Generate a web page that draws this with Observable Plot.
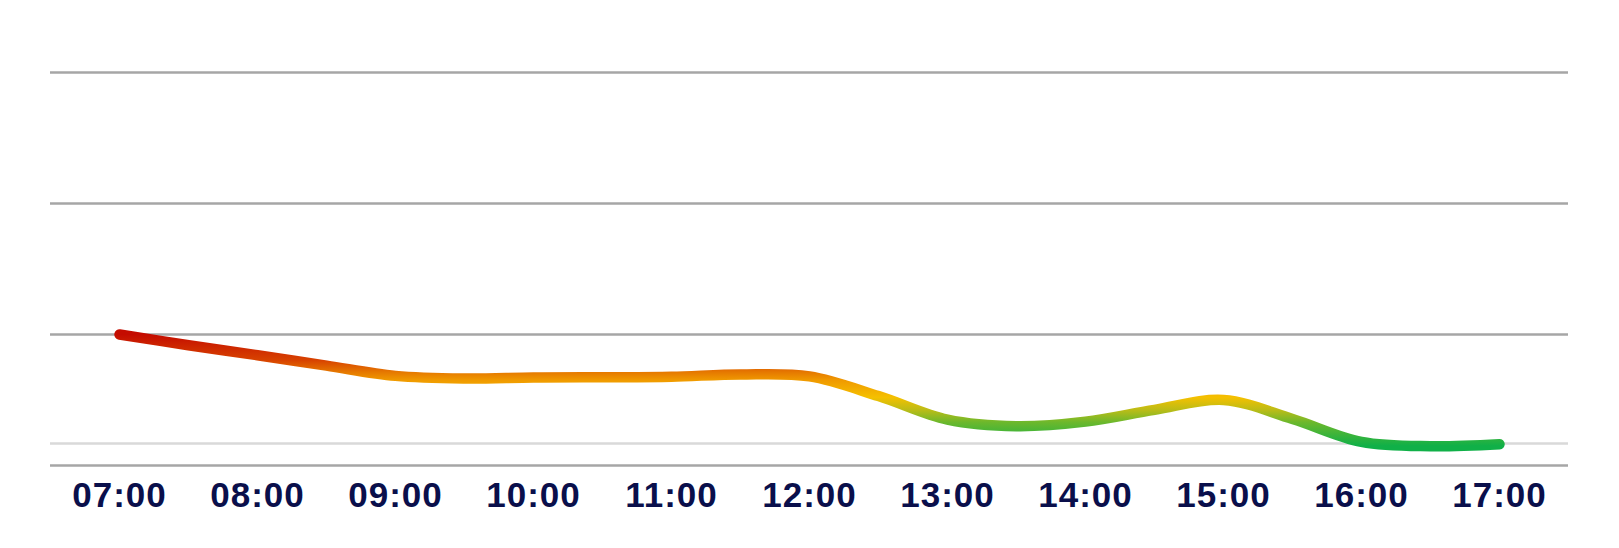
<!DOCTYPE html>
<html>
<head>
<meta charset="utf-8">
<script src="https://cdn.jsdelivr.net/npm/d3@7"></script>
<script src="https://cdn.jsdelivr.net/npm/@observablehq/plot@0.6"></script>
<style>
  html, body { margin: 0; padding: 0; background: #ffffff; }
  #chart svg { display: block; }
  #chart [aria-label="x-axis tick label"] text { font-weight: 700; letter-spacing: 1px; }
</style>
</head>
<body>
<div id="chart"></div>
<script>
// Sample times (half-hourly) and values
const times = ["07:00","07:30","08:00","08:30","09:00","09:30","10:00","10:30","11:00","11:30","12:00","12:30","13:00","13:30","14:00","14:30","15:00","15:30","16:00","16:30","17:00"];
const values = [10.0, 9.18, 8.42, 7.62, 6.84, 6.64, 6.72, 6.74, 6.78, 6.95, 6.8, 5.3, 3.5, 3.0, 3.35, 4.25, 5.0, 3.55, 1.8, 1.47, 1.63];

// Axis tick labels
const tickLabels = ["07:00","08:00","09:00","10:00","11:00","12:00","13:00","14:00","15:00","16:00","17:00"];

// Horizontal grid values and reference line
const gridValues = [10, 20, 30];
const baseValue = [0];
const referenceValue = [1.68];

// Colour ramp (by value, top = red, bottom = green)
const rampValues = [10, 8, 7.1, 6.5, 5.2, 4.2, 3.3, 1.5];
const rampColors = ["#c40c00", "#d84400", "#e67a00", "#f09a00", "#f5c000", "#b8bc18", "#6cb82c", "#10b048"];

const toHours = s => { const [h, m] = s.split(":").map(Number); return h + m / 60; };
const data = times.map((t, i) => ({ t: toHours(t), v: values[i] }));
const tickHours = tickLabels.map(toHours);

const W = 1619, H = 548;
const plot = Plot.plot({
  width: W,
  height: H,
  marginLeft: 50,
  marginRight: 51,
  marginTop: 72,
  marginBottom: 83,
  style: { fontFamily: "'Liberation Sans', Arial, sans-serif", background: "#ffffff" },
  x: { type: "linear", domain: [6.5, 17.5], axis: null },
  y: { domain: [0, 30], axis: null },
  marks: [
    Plot.ruleY(gridValues, { stroke: "#a6a6a6", strokeWidth: 2.5 }),
    Plot.ruleY(referenceValue, { stroke: "#d9d9d9", strokeWidth: 2.5 }),
    Plot.ruleY(baseValue, { stroke: "#a6a6a6", strokeWidth: 2.5 }),
    Plot.line(data, {
      x: "t", y: "v",
      curve: "catmull-rom",
      stroke: "url(#lineGrad)",
      strokeWidth: 10.5,
      strokeLinecap: "round",
      strokeLinejoin: "round"
    }),
    Plot.axisX({
      ticks: tickHours,
      tickFormat: d => tickLabels[tickHours.indexOf(d)],
      tickSize: 0,
      tickPadding: 17,
      fontSize: 35,
      fill: "#0a0f4b",
      label: null
    })
  ]
});

// Vertical gradient tied to the y scale
const yScale = plot.scale("y");
const yTop = yScale.apply(rampValues[0]);
const yBot = yScale.apply(rampValues[rampValues.length - 1]);
const ns = "http://www.w3.org/2000/svg";
const defs = document.createElementNS(ns, "defs");
const grad = document.createElementNS(ns, "linearGradient");
grad.setAttribute("id", "lineGrad");
grad.setAttribute("gradientUnits", "userSpaceOnUse");
grad.setAttribute("x1", 0); grad.setAttribute("x2", 0);
grad.setAttribute("y1", yTop); grad.setAttribute("y2", yBot);
rampValues.forEach((v, i) => {
  const stop = document.createElementNS(ns, "stop");
  stop.setAttribute("offset", (yScale.apply(v) - yTop) / (yBot - yTop));
  stop.setAttribute("stop-color", rampColors[i]);
  grad.appendChild(stop);
});
defs.appendChild(grad);
plot.insertBefore(defs, plot.firstChild);

document.getElementById("chart").appendChild(plot);
</script>
</body>
</html>
